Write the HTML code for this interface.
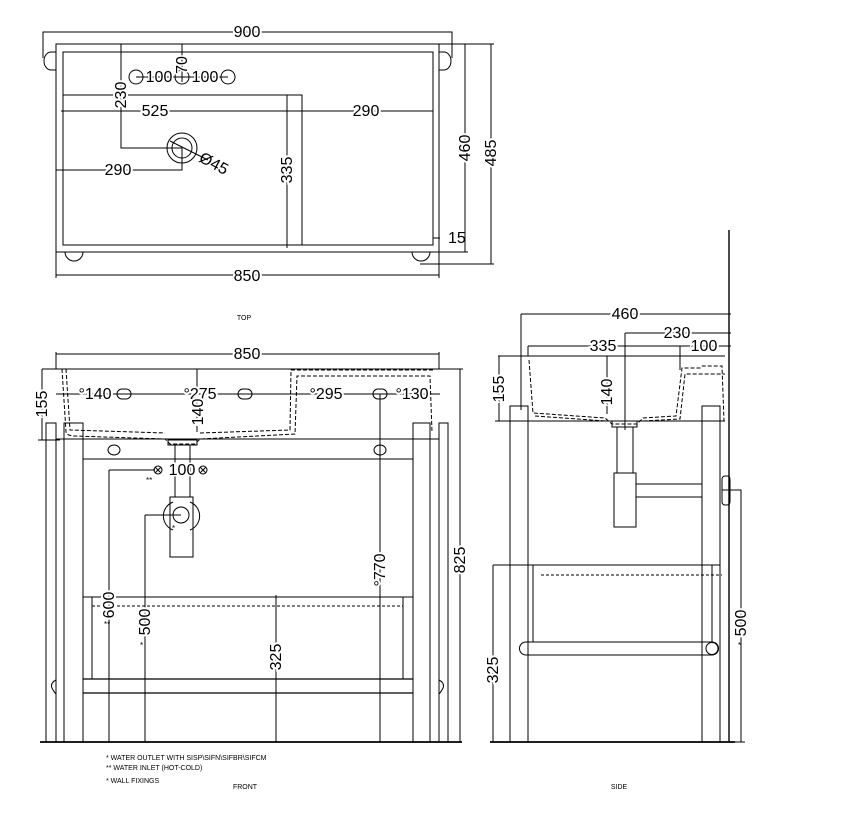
<!DOCTYPE html>
<html><head><meta charset="utf-8"><style>
html,body{margin:0;padding:0;background:#fff;}
svg{display:block;}
text{font-family:"Liberation Sans",Arial,sans-serif;fill:#000;}
</style></head><body>
<svg width="850" height="819" viewBox="0 0 850 819" xmlns="http://www.w3.org/2000/svg">
<g fill="none" stroke="#000" stroke-width="1">
<!-- TOP VIEW -->
<path d="M43,58 V32 H452 V58"/>
<rect x="56" y="44" width="383" height="208"/>
<rect x="63" y="52" width="370" height="193"/>
<path d="M56,52 h-5 a7,9 0 0 0 0,18 h5"/>
<path d="M439,52 h5 a7,9 0 0 1 0,18 h-5"/>
<path d="M65,252 a9,9 0 0 0 18,0"/>
<path d="M412,252 a9,9 0 0 0 18,0"/>
<path d="M56,252 V278 M439,252 V278 M56,275 H439"/>
<path d="M63,95 H302 V245"/>
<path d="M61,111 H433"/>
<path d="M121,44 V148 H182"/>
<circle cx="182" cy="148" r="15"/><circle cx="182" cy="148" r="10"/>
<path d="M170,141 L208,160"/>
<path d="M56,170 H182 V148"/>
<path d="M287,95 V248"/>
<path d="M439,44 H468 M439,252 H468 M465,44 V252"/>
<path d="M439,44 H494 M420,264 H494 M491,44 V264"/>
<path d="M433,238 H440"/>
<circle cx="136" cy="77" r="7"/><circle cx="182" cy="77" r="7"/><circle cx="228" cy="77" r="7"/>
<path d="M182,44 V82 M136,77 H228"/>

<!-- FRONT VIEW -->
<path d="M56,352 V369 M439,352 V369 M56,354 H439"/>
<path d="M42,369 H460"/>
<path d="M42,369 V440 M38,440 H60"/>
<path d="M56,394 H440"/>
<path d="M197,369 V432" />
<rect x="117" y="389" width="14" height="10" rx="5"/>
<rect x="238" y="389" width="14" height="10" rx="5"/>
<rect x="373" y="389" width="14" height="10" rx="5"/>
<path d="M62,369 L66,432 Q67,436 75,436 L165,439 L170,444 H195 L200,439 L295,434 L297,376 L430,376 L432,432" stroke-dasharray="4,2"/>
<path d="M66,369 L70,430 L165,433 M200,433 L290,430 L291,370 L435,370" stroke-dasharray="4,2"/>
<rect x="46" y="423" width="10" height="319"/>
<rect x="64" y="423" width="19" height="319"/>
<rect x="413" y="423" width="17" height="319"/>
<rect x="439" y="423" width="9" height="319"/>
<path d="M56,439 H439 M83,459 H413"/>
<ellipse cx="114" cy="450" rx="6" ry="5"/>
<ellipse cx="380" cy="450" rx="6" ry="5"/>
<rect x="168" y="440" width="29" height="5"/>
<rect x="175" y="445" width="15" height="52"/>
<rect x="170" y="497" width="23" height="60"/>
<circle cx="181" cy="515" r="8"/>
<path d="M173,502 a15,15 0 0 0 0,28 M190,502 a15,15 0 0 1 0,28"/>
<circle cx="158" cy="470" r="4"/><circle cx="203" cy="470" r="4"/>
<path d="M155,467 l6,6 M161,467 l-6,6 M200,467 l6,6 M206,467 l-6,6"/>
<path d="M109,470 H155 M109,470 V742"/>
<path d="M145,515 H181 M145,515 V742"/>
<path d="M380,394 V742"/>
<path d="M276,595 V742"/>
<path d="M440,369 H463 M460,369 V742"/>
<path d="M83,597 H413 M92,597 V679 M403,597 V679"/>
<path d="M92,606 H403" stroke-dasharray="3,2"/>
<path d="M83,679 H413 M83,693 H413" stroke-width="1.2"/>
<path d="M56,680 q-6,3 -4,8 q2,4 4,6 M439,680 q6,3 4,8 q-2,4 -4,6"/>
<path d="M40,742 H462" stroke-width="1.8"/>

<!-- SIDE VIEW -->
<path d="M729,230 V742" stroke-width="1.4"/>
<path d="M521,314 H731 M521,314 V410"/>
<path d="M625,333 H731 M625,333 V430"/>
<path d="M528,346 H731 M528,346 V356 M680,346 V370"/>
<path d="M498,356 H725"/>
<path d="M499,356 V421 M495,421 H725"/>
<path d="M607,356 V414"/>
<path d="M529,360 L533,413 L605,418 L612,424 H637 L643,418 L676,416 L682,368 H700 L702,366 H722 L724,421" stroke-dasharray="4,2"/>
<path d="M535,416 L606,421 M643,421 L680,419 L685,374 H725" stroke-dasharray="4,2"/>
<rect x="510" y="406" width="18" height="336"/>
<rect x="702" y="406" width="18" height="336"/>
<rect x="612" y="421" width="25" height="6"/>
<rect x="617" y="427" width="16" height="46"/>
<rect x="614" y="473" width="22" height="54"/>
<path d="M636,484 H702 M636,497 H702"/>
<rect x="722" y="476" width="8" height="29" rx="3"/>
<path d="M722,490 H741 V742 M730,742 H745"/>
<path d="M493,565 H720 M493,565 V742 M533,565 V642 M720,565 V642 M712,565 V642"/>
<path d="M541,575 H722" stroke-dasharray="3,2"/>
<path d="M526,642 H712 a6.5,6.5 0 0 1 0,13 H526 a6.5,6.5 0 0 1 0,-13 Z"/>
<circle cx="712" cy="648.5" r="6"/>
<path d="M490,742 H735" stroke-width="1.8"/>
</g>

<g font-size="16">
<text x="247" y="37" text-anchor="middle" style="paint-order:stroke" stroke="#fff" stroke-width="4">900</text>
<text x="247" y="281" text-anchor="middle" style="paint-order:stroke" stroke="#fff" stroke-width="4">850</text>
<text x="155" y="116" text-anchor="middle" style="paint-order:stroke" stroke="#fff" stroke-width="4">525</text>
<text x="366" y="116" text-anchor="middle" style="paint-order:stroke" stroke="#fff" stroke-width="4">290</text>
<text x="118" y="175" text-anchor="middle" style="paint-order:stroke" stroke="#fff" stroke-width="4">290</text>
<text x="159" y="82" text-anchor="middle" style="paint-order:stroke" stroke="#fff" stroke-width="3">100</text>
<text x="205" y="82" text-anchor="middle" style="paint-order:stroke" stroke="#fff" stroke-width="3">100</text>
<text x="448" y="243">15</text>
<text transform="translate(187,65) rotate(-90)" text-anchor="middle" style="paint-order:stroke" stroke="#fff" stroke-width="3">70</text>
<text transform="translate(126,95) rotate(-90)" text-anchor="middle" style="paint-order:stroke" stroke="#fff" stroke-width="4">230</text>
<text transform="translate(292,170) rotate(-90)" text-anchor="middle" style="paint-order:stroke" stroke="#fff" stroke-width="4">335</text>
<text transform="translate(470,148) rotate(-90)" text-anchor="middle" style="paint-order:stroke" stroke="#fff" stroke-width="4">460</text>
<text transform="translate(496,153) rotate(-90)" text-anchor="middle" style="paint-order:stroke" stroke="#fff" stroke-width="4">485</text>
<text transform="translate(198,161) rotate(28)">Ø45</text>

<text x="247" y="359" text-anchor="middle" style="paint-order:stroke" stroke="#fff" stroke-width="4">850</text>
<text x="95" y="399" text-anchor="middle" style="paint-order:stroke" stroke="#fff" stroke-width="4">°140</text>
<text x="200" y="399" text-anchor="middle" style="paint-order:stroke" stroke="#fff" stroke-width="4">°275</text>
<text x="326" y="399" text-anchor="middle" style="paint-order:stroke" stroke="#fff" stroke-width="4">°295</text>
<text x="412" y="399" text-anchor="middle" style="paint-order:stroke" stroke="#fff" stroke-width="4">°130</text>
<text x="182" y="475" text-anchor="middle" style="paint-order:stroke" stroke="#fff" stroke-width="3">100</text>
<text transform="translate(47,404) rotate(-90)" text-anchor="middle" style="paint-order:stroke" stroke="#fff" stroke-width="4">155</text>
<text transform="translate(203,412) rotate(-90)" text-anchor="middle" style="paint-order:stroke" stroke="#fff" stroke-width="4">140</text>
<text transform="translate(114,605) rotate(-90)" text-anchor="middle" style="paint-order:stroke" stroke="#fff" stroke-width="4">600</text>
<text transform="translate(150,622) rotate(-90)" text-anchor="middle" style="paint-order:stroke" stroke="#fff" stroke-width="4">500</text>
<text transform="translate(281,657) rotate(-90)" text-anchor="middle" style="paint-order:stroke" stroke="#fff" stroke-width="4">325</text>
<text transform="translate(385,570) rotate(-90)" text-anchor="middle" style="paint-order:stroke" stroke="#fff" stroke-width="4">°770</text>
<text transform="translate(465,560) rotate(-90)" text-anchor="middle" style="paint-order:stroke" stroke="#fff" stroke-width="4">825</text>

<text x="625" y="319" text-anchor="middle" style="paint-order:stroke" stroke="#fff" stroke-width="4">460</text>
<text x="677" y="338" text-anchor="middle" style="paint-order:stroke" stroke="#fff" stroke-width="4">230</text>
<text x="603" y="351" text-anchor="middle" style="paint-order:stroke" stroke="#fff" stroke-width="4">335</text>
<text x="704" y="351" text-anchor="middle" style="paint-order:stroke" stroke="#fff" stroke-width="4">100</text>
<text transform="translate(504,389) rotate(-90)" text-anchor="middle" style="paint-order:stroke" stroke="#fff" stroke-width="4">155</text>
<text transform="translate(612,392) rotate(-90)" text-anchor="middle" style="paint-order:stroke" stroke="#fff" stroke-width="4">140</text>
<text transform="translate(498,670) rotate(-90)" text-anchor="middle" style="paint-order:stroke" stroke="#fff" stroke-width="4">325</text>
<text transform="translate(746,623) rotate(-90)" text-anchor="middle" style="paint-order:stroke" stroke="#fff" stroke-width="4">500</text>
</g>
<g font-size="8">
<text x="146" y="483">**</text>
<text x="172" y="531">*</text>
<text x="104" y="627">**</text>
<text x="140" y="648">*</text>
<text x="738" y="648">*</text>
<text x="106" y="760" font-size="7">*  WATER OUTLET WITH SISP\SIFN\SIFBR\SIFCM</text>
<text x="106" y="770" font-size="7">** WATER INLET  (HOT-COLD)</text>
<text x="106" y="783" font-size="7">* WALL FIXINGS</text>
<text x="245" y="789" font-size="7" text-anchor="middle">FRONT</text>
<text x="619" y="789" font-size="7" text-anchor="middle">SIDE</text>
<text x="244" y="320" font-size="7" text-anchor="middle">TOP</text>
</g>
</svg>
</body></html>
